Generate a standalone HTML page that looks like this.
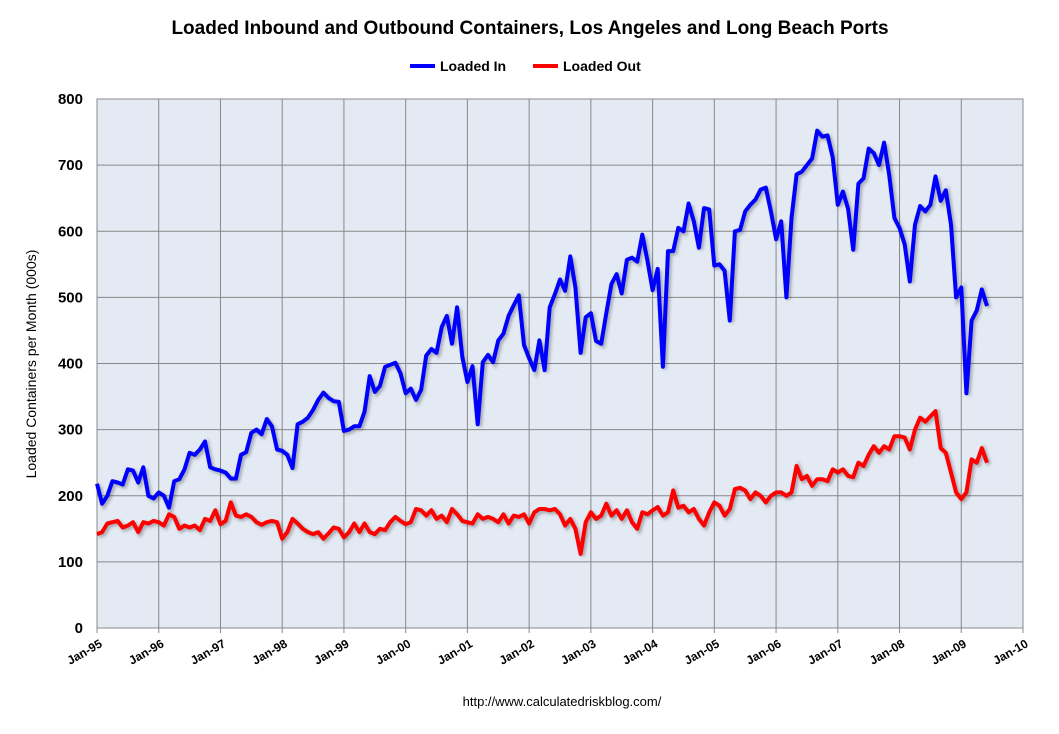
<!DOCTYPE html>
<html><head><meta charset="utf-8"><style>
body{margin:0;background:#fff;}
svg text{font-family:"Liberation Sans",sans-serif;}
</style></head><body>
<svg id="chart" width="1059" height="729" xmlns="http://www.w3.org/2000/svg">
<defs><filter id="sh" x="-5%" y="-5%" width="110%" height="110%"><feGaussianBlur stdDeviation="1.5"/></filter></defs>
<text x="530" y="34" text-anchor="middle" font-size="19" font-weight="bold">Loaded Inbound and Outbound Containers, Los Angeles and Long Beach Ports</text>
<g>
<line x1="410" y1="66" x2="435" y2="66" stroke="#0000ff" stroke-width="4"/>
<text x="440" y="71" font-size="14" font-weight="bold">Loaded In</text>
<line x1="533" y1="66" x2="558" y2="66" stroke="#ff0000" stroke-width="4"/>
<text x="563" y="71" font-size="14" font-weight="bold">Loaded Out</text>
</g>
<rect x="97" y="99" width="926" height="529" fill="#e4eaf4" stroke="#888" stroke-width="1"/>
<g id="grid"></g>
<g id="series"></g>
<g id="axes"></g>
<text transform="translate(36,364) rotate(-90)" text-anchor="middle" font-size="14">Loaded Containers per Month (000s)</text>
<text x="562" y="706" text-anchor="middle" font-size="13">http://www.calculatedriskblog.com/</text>
</svg>
<script>
const yTicks=[0,100,200,300,400,500,600,700,800];
const xTickLabels=["Jan-95","Jan-96","Jan-97","Jan-98","Jan-99","Jan-00","Jan-01","Jan-02","Jan-03","Jan-04","Jan-05","Jan-06","Jan-07","Jan-08","Jan-09","Jan-10"];
const loadedIn=[
218,188,200,222,220,217,240,238,220,243,200,196,
205,200,182,222,225,240,265,262,270,282,243,240,
238,235,226,226,262,266,295,300,293,316,305,270,
268,262,242,308,312,318,330,345,356,348,343,342,
298,300,305,305,327,381,357,366,395,398,401,385,
355,362,345,360,412,422,416,455,472,430,485,410,
372,396,308,402,413,402,435,445,472,488,503,428,
408,390,435,390,485,505,527,510,562,515,416,470,
476,434,430,476,520,535,506,557,560,554,595,555,
511,543,395,570,570,605,600,642,615,575,635,633,
548,550,540,465,600,602,630,640,648,663,666,630,
588,615,500,620,686,690,700,710,752,743,745,712,
640,660,634,572,672,680,725,718,700,734,685,620,
605,580,524,610,638,630,640,683,646,662,610,500,
515,355,465,480,512,487];
const loadedOut=[
142,145,158,160,162,152,155,160,145,160,158,162,
160,155,172,168,150,155,152,155,148,165,162,178,
157,162,190,170,168,172,168,160,156,160,162,160,
135,145,165,158,150,145,142,145,135,143,152,150,
137,145,158,145,158,145,142,150,148,160,168,162,
157,160,180,178,170,178,165,170,160,180,172,162,
160,158,172,165,168,165,160,172,158,170,168,172,
158,175,180,180,178,180,172,155,165,150,112,160,
175,165,170,188,170,178,165,178,160,150,175,172,
178,183,170,175,208,182,185,175,180,165,155,175,
190,185,170,180,210,212,208,195,205,200,190,200,
205,205,200,205,245,225,230,215,225,225,222,240,
235,240,230,228,250,245,262,275,265,275,270,290,
290,288,270,300,318,312,320,328,272,265,235,205,
195,205,255,250,272,250];
const X0=97,X1=1023,Y0=628,Y1=99;
const xs=m=>X0+(X1-X0)*m/180;
const ys=v=>Y0-(Y0-Y1)*v/800;
const NS="http://www.w3.org/2000/svg";
function mk(t,a,p){const e=document.createElementNS(NS,t);for(const k in a)e.setAttribute(k,a[k]);p.appendChild(e);return e;}
const grid=document.getElementById('grid'),axes=document.getElementById('axes'),ser=document.getElementById('series');
yTicks.forEach(v=>{
 const l=mk('line',{x1:X0,x2:X1,y1:ys(v),y2:ys(v),stroke:'#888','stroke-width':1},grid);
 
 
 const t=mk('text',{x:X0-14,y:ys(v)+5,'text-anchor':'end','font-size':15,'font-weight':'bold'},axes);
 t.textContent=v;
 
 
});
xTickLabels.forEach((s,i)=>{
 const x=xs(i*12);
 const l=mk('line',{x1:x,x2:x,y1:Y1,y2:Y0+5,stroke:'#888','stroke-width':1},grid);
 
 
 const t=mk('text',{transform:`translate(${x+6},${Y0+18}) rotate(-30)`,'text-anchor':'end','font-size':12,'font-weight':'bold'},axes);
 t.textContent=s;
 
 
});
function draw(arr,color,name){
 const d=arr.map((v,i)=>(i?'L':'M')+xs(i).toFixed(1)+','+ys(v).toFixed(1)).join('');
 const s=mk('path',{d:d,fill:'none',stroke:'#000','stroke-opacity':0.3,'stroke-width':4,transform:'translate(2,2)',filter:'url(#sh)'},ser);
 
 
 const p=mk('path',{d:d,fill:'none',stroke:color,'stroke-width':4,'stroke-linejoin':'round'},ser);
 
 
}
draw(loadedIn,'#0000ff','loaded-in-line');
draw(loadedOut,'#ff0000','loaded-out-line');
</script>
</body></html>
